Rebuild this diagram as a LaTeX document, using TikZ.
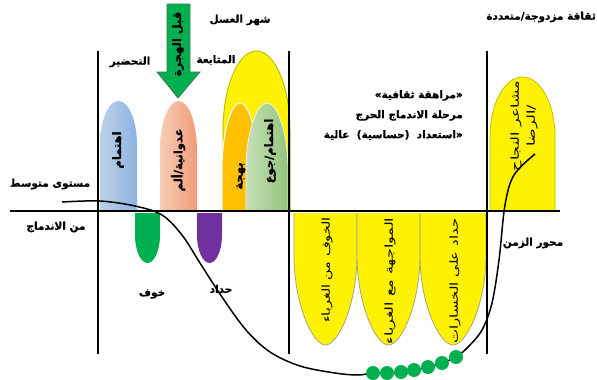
\documentclass[tikz,border=0pt]{standalone}
\usepackage{fontspec}
\newfontfamily\arb[Script=Arabic, BoldFeatures={FakeBold=0.8}]{DejaVu Sans}
\TeXXeTstate=1
\newcommand\ar[1]{\beginR #1\endR}
\definecolor{bluL}{HTML}{BCD0E8}
\definecolor{bluR}{HTML}{8DB3E2}
\definecolor{salL}{HTML}{F9CDB6}
\definecolor{salR}{HTML}{F09B78}
\definecolor{orng}{HTML}{FFC000}
\definecolor{grnL}{HTML}{C6DEB5}
\definecolor{grnR}{HTML}{92C47D}
\definecolor{yelD}{HTML}{C0C000}
\definecolor{fgreen}{HTML}{00B050}
\definecolor{agreenD}{HTML}{3C7C4C}
\definecolor{purp}{HTML}{7030A0}
\definecolor{ygray}{HTML}{A6A680}
\newcommand\bumpup[7]{%
  \pgfmathsetmacro\bxc{(#1+#2)/2}%
  \pgfmathsetmacro\bhw{(#2-#1)/2}%
  \pgfmathsetmacro\bka{#4+0.552*(#5-#4)}%
  \pgfmathsetmacro\bkb{\bxc-#6*\bhw}%
  \pgfmathsetmacro\bkc{\bxc+#6*\bhw}%
  \path[#7] (#1,#3) -- (#1,#4) .. controls (#1,\bka) and (\bkb,#5) .. (\bxc,#5) .. controls (\bkc,#5) and (#2,\bka) .. (#2,#4) -- (#2,#3);}
\tikzset{
  lbl/.style={font=\arb\bfseries\fontsize{10.5}{12}\selectfont, inner sep=0pt},
  vlbl/.style={font=\arb\bfseries\fontsize{11.5}{13}\selectfont, inner sep=0pt, rotate=90},
  vtxt/.style={font=\arb\fontsize{11}{16}\selectfont, inner sep=0pt, rotate=90},
  vline/.style={line width=2.6pt, black},
  axisline/.style={line width=1.8pt, black},
  curveline/.style={line width=1.5pt, black},
}
\begin{document}
\begin{tikzpicture}[x=1pt,y=-1pt]
\useasboundingbox[fill=white] (0,0) rectangle (597,380);
% upper bumps
\bumpup{100}{137}{211}{145}{101}{0.552}{left color=bluL, right color=bluR}
\bumpup{160}{197}{211}{151}{101}{0.552}{left color=salL, right color=salR}
\bumpup{223}{290}{211}{131}{51}{0.552}{fill=yellow, draw=yelD, line width=1pt}
\bumpup{222}{258}{211}{170}{103}{0.5}{fill=orng, draw=white, line width=1pt}
\bumpup{246}{288}{211}{170}{103}{0.5}{left color=grnL, right color=grnR, draw=white!70!grnL, line width=0.8pt}
\bumpup{490}{555}{211}{137}{77}{0.552}{fill=yellow, draw=yelD, line width=0.8pt}
% lower bumps
\bumpup{135}{160}{213}{235}{263}{0.552}{fill=fgreen}
\bumpup{197}{222}{213}{235}{263}{0.552}{fill=purp}
\bumpup{294}{357}{213}{255}{345}{0.4}{fill=yellow, draw=ygray, line width=0.8pt}
\bumpup{357}{420}{213}{255}{345}{0.4}{fill=yellow, draw=ygray, line width=0.8pt}
\bumpup{420}{486}{213}{255}{345}{0.4}{fill=yellow, draw=ygray, line width=0.8pt}
% arrow
\draw[fill=fgreen, draw=agreenD, line width=0.8pt] (167,4) -- (190,4) -- (190,72) -- (200,72) -- (178,98) -- (157,72) -- (167,72) -- cycle;
% frame lines
\draw[vline] (98,51) -- (98,354);
\draw[vline] (289,51) -- (289,354);
\draw[vline] (487,51) -- (487,354);
\draw[axisline] (10,211) -- (560,211);
% curve
\draw[curveline] plot[smooth, tension=0.55] coordinates {(62,202) (100,201) (135,206) (162,215) (182,235) (200,263) (222,297) (246,330) (270,352) (300,366) (335,373) (358,375) (373,373) (387,373) (401,372) (414,370) (428,367) (442,363) (456,357) (468,347) (482,330) (492,303) (499,260) (505,205) (514,175) (535,154)};
\foreach \px/\py in {373/373, 387/373, 401/372, 414/370, 428/367, 442/363, 456/357}
  \fill[fgreen] (\px,\py) circle[radius=7pt];
% labels
\node[lbl] (hs) at (240,20) {\ar{شهر العسل}};
\node[lbl] (tah) at (130,62) {\ar{التحضير}};
\node[lbl] (mut) at (216,60) {\ar{المتابعة}};
\node[lbl, anchor=east] (thq) at (596,17) {\ar{ثقافة مزدوجة/متعددة}};
\node[lbl] (mus) at (50,184) {\ar{مستوى متوسط}};
\node[lbl] (mina) at (56,227) {\ar{من الاندماج}};
\node[lbl] (khf) at (152,294) {\ar{خوف}};
\node[lbl] (hdd) at (221,289) {\ar{حداد}};
\node[lbl] (mhw) at (533,243) {\ar{محور الزمن}};
\node[lbl, font=\arb\bfseries\fontsize{10.5}{20}\selectfont, align=right, anchor=north east] (mid) at (463,90) {\ar{«مراهقة ثقافية»}\\ \ar{مرحلة الاندماج الحرج}\\ \ar{«استعداد \ (حساسية) \ عالية}};
% vertical labels
\node[vlbl] (v1) at (118,150) {\ar{اهتمام}};
\node[vlbl] (v2) at (178,160) {\ar{عدوانية/ألم}};
\node[vlbl] (v3) at (241,176) {\ar{بهجة}};
\node[vlbl] (v4) at (270,151) {\ar{اهتمام/جوع}};
\node[vlbl] (v5) at (178,44) {\ar{قبل الهجرة}};
\node[vtxt] (y1) at (327,270) {\scalebox{1.3}[1]{\beginR الخوف من الغرباء\endR}};
\node[vtxt] (y2) at (390,281) {\scalebox{1.45}[1]{\beginR المواجهة مع الغرباء\endR}};
\node[vtxt] (y3) at (455,281) {\scalebox{1.35}[1]{\beginR حداد على الخسارات\endR}};
\node[vtxt, align=center] (y4) at (524,126) {\scalebox{1.45}[1]{\beginR مشاعر النجاح\endR}\\ \scalebox{1.45}[1]{\beginR /الرضا\endR}};
\end{tikzpicture}
\end{document}
